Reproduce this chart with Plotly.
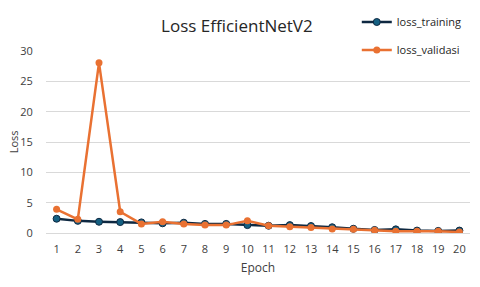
import plotly.graph_objects as go

epochs = [str(i) for i in range(1, 21)]
loss_training = [2.35, 2.0, 1.85, 1.8, 1.75, 1.6, 1.7, 1.5, 1.5, 1.3, 1.2, 1.3, 1.15, 0.95, 0.7, 0.5, 0.6, 0.4, 0.35, 0.4]
loss_validasi = [3.9, 2.25, 28.05, 3.5, 1.5, 1.85, 1.5, 1.3, 1.3, 2.0, 1.2, 1.05, 0.9, 0.65, 0.6, 0.45, 0.3, 0.3, 0.3, 0.15]
y_ticks = [0, 5, 10, 15, 20, 25, 30]

fig = go.Figure()
fig.add_trace(go.Scatter(
    x=epochs, y=loss_training, name="loss_training", mode="lines+markers",
    line=dict(color="#0E2841", width=2.5),
    marker=dict(size=7, color="#156082", line=dict(color="#0E2841", width=1)),
    legendgroup="a",
))
fig.add_trace(go.Scatter(
    x=epochs, y=loss_validasi, name="loss_validasi", mode="lines+markers",
    line=dict(color="#E97132", width=2.5),
    marker=dict(size=7, color="#E97132"),
    legendgroup="b",
))

# page body has an 8px default margin, so the figure is sized 472x279
fig.update_layout(
    width=472, height=279,
    margin=dict(l=38, r=10, t=43, b=54, autoexpand=False),
    paper_bgcolor="white", plot_bgcolor="white",
    font=dict(family="Open Sans", size=11, color="#404040"),
    title=dict(text="Loss EfficientNetV2", x=0.485, xanchor="center", y=0.935, yanchor="middle",
               font=dict(family="Open Sans", size=17, color="#262626")),
    showlegend=True,
    legend=dict(x=0.733, y=1.239, xanchor="left", yanchor="top",
                font=dict(size=11, color="#262626"), tracegroupgap=9,
                bgcolor="rgba(0,0,0,0)"),
    xaxis=dict(type="category", range=[-0.5, 19.5], showgrid=False, zeroline=False, showline=False,
               ticks="", tickfont=dict(size=11), automargin=False, ticklabelstandoff=8,
               title=dict(text="Epoch", font=dict(size=12), standoff=8)),
    yaxis=dict(range=[0, 30], tickvals=y_ticks, showgrid=True, gridcolor="#D9D9D9",
               gridwidth=1, zeroline=True, zerolinecolor="#D9D9D9", zerolinewidth=1,
               showline=False, ticks="outside", ticklen=10, tickcolor="rgba(0,0,0,0)",
               tickfont=dict(size=11), automargin=False),
    annotations=[dict(text="Loss", textangle=-90, xref="paper", yref="paper",
                      x=-0.077, y=0.5, xanchor="center", yanchor="middle",
                      showarrow=False, font=dict(size=11, color="#404040"))],
)

fig.write_html("out.html")
